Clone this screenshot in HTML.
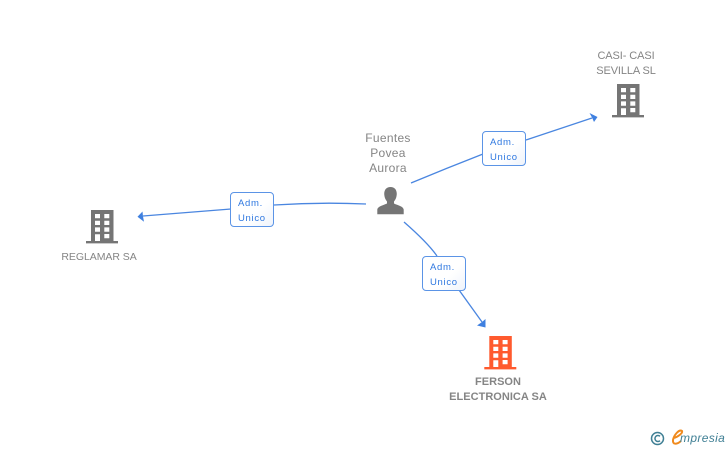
<!DOCTYPE html>
<html><head><meta charset="utf-8">
<style>
html,body{margin:0;padding:0;background:#fff}
body{width:728px;height:450px;overflow:hidden;position:relative;font-family:"Liberation Sans",sans-serif}
svg{position:absolute;left:0;top:0}
.t{position:absolute;text-align:center;color:#858585;white-space:nowrap}
.box{position:absolute;width:42px;height:33px;border:1.5px solid #5b94e6;border-radius:4px;background:linear-gradient(135deg,#fff 60%,#eef3fb);box-sizing:content-box;color:#2f78e0;font-size:9.5px;letter-spacing:.7px;line-height:15px;padding:0}
.box span{position:absolute;left:7px;white-space:nowrap}
</style></head><body>
<svg width="728" height="450" viewBox="0 0 728 450">
<defs>
<g id="b">
<path fill-rule="evenodd" d="M5 0H27.500V31H32V33.400H0V31H5ZM9 4V8.300H14V4ZM18.300 4V8.300H23.300V4ZM9 10.700V15H14V10.700ZM18.300 10.700V15H23.300V10.700ZM9 17.400V21.700H14V17.400ZM18.300 17.400V21.700H23.300V17.400ZM9 24.300V31H14V24.300ZM18.300 24V28.300H23.300V24Z"/>
</g>
</defs>
<g fill="none" stroke="#4a86e0" stroke-width="1.300">
<path d="M411 183Q447 168 483 154"/>
<path d="M526 140L592 118"/>
<path d="M366 204Q320 202 274 205"/>
<path d="M231 209L143 216"/>
<path d="M404 222Q428 243 437 256"/>
<path d="M459 290L482 322"/>
</g>
<g fill="#3f80e0">
<path d="M597.500 117L589.500 113L592 117.500L594 122Z"/>
<path d="M137.500 216.700L142.500 211.500L143 216.500L144 221.700Z"/>
<path d="M485.500 327.500L477 325.500L482 322L485.500 319Z"/>
</g>
<use href="#b" x="612" y="84" fill="#757575"/>
<use href="#b" x="86" y="210" fill="#757575"/>
<use href="#b" x="484.300" y="336" fill="#ff5a2e"/>
<path fill="#757575" d="M390.500 187C386 187 383.800 190.500 384.300 195C384.600 198 385.800 200 387 201.500V203.500C383 205.500 378 206 377.300 209.500V214.300H403.700V209.500C403 206 398 205.500 394 203.500V201.500C395.200 200 396.400 198 396.700 195C397.200 190.500 395 187 390.500 187Z"/>
<g fill="none" stroke="#3f7f94" stroke-width="1.500"><circle cx="657.500" cy="438.500" r="6"/><path d="M660 436.300A3 3 0 1 0 660 440.700"/></g>
<path fill="none" stroke="#f08a1d" stroke-width="2" d="M673.500 438C678 437 683 433 682 431C679 429 674 435 673 440C672.500 445 677 444.500 681 441"/>
</svg>
<div class="t" style="left:338px;top:131px;width:100px;font-size:12px;line-height:15px;letter-spacing:.3px">Fuentes<br>Povea<br>Aurora</div>
<div class="t" style="left:578px;top:49px;width:96px;font-size:11px;line-height:15px;letter-spacing:-.1px">CASI- CASI<br>SEVILLA SL</div>
<div class="t" style="left:49px;top:250px;width:100px;font-size:10.500px;line-height:15px;letter-spacing:-.05px">REGLAMAR SA</div>
<div class="t" style="left:438px;top:375px;width:120px;font-size:11px;line-height:15px;font-weight:bold;letter-spacing:.02px">FERSON<br>ELECTRONICA SA</div>
<div class="box" style="left:482px;top:131px"><span style="top:3px">Adm.</span><span style="top:18px">Unico</span></div>
<div class="box" style="left:230px;top:191.500px"><span style="top:3px">Adm.</span><span style="top:18px">Unico</span></div>
<div class="box" style="left:422px;top:255.500px"><span style="top:3px">Adm.</span><span style="top:18px">Unico</span></div>
<div style="position:absolute;left:680px;top:431px;font:italic 12px 'Liberation Sans',sans-serif;color:#3f7f94;letter-spacing:.35px">mpresia</div>
</body></html>
